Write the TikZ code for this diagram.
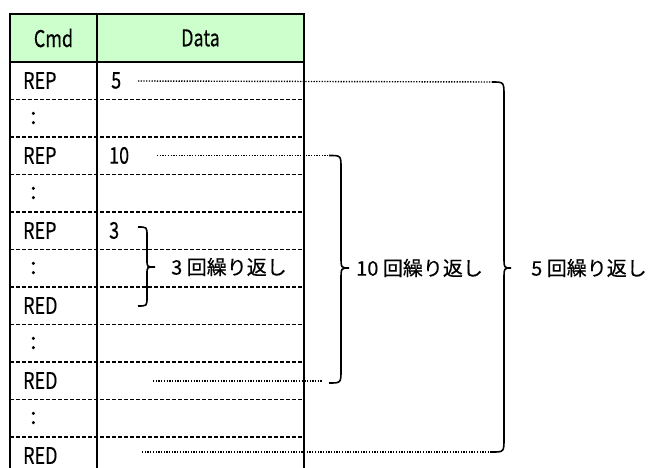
\documentclass[tikz,border=0pt]{standalone}
\usepackage{fontspec}
\setmainfont{Noto Sans CJK JP}[FakeBold=0.4]
\newfontfamily\lblfont{Noto Sans CJK JP}[FakeBold=0.3]
\newcommand{\narrowtxt}[1]{\scalebox{0.78}[1]{#1}}
\begin{document}
\begin{tikzpicture}[x=1pt,y=-1pt,
  thickline/.style={line width=2.4pt},
  rowsep/.style={line width=1.3pt,dash pattern=on 4pt off 2pt},
  dotline/.style={line width=1.4pt,dash pattern=on 1.3pt off 1.4pt},
  bracepath/.style={line width=1.6pt},
  celltxt/.style={inner sep=0pt,anchor=west,font=\fontsize{23}{25}\selectfont},
  headtxt/.style={inner sep=0pt,font=\fontsize{23}{25}\selectfont},
  bracelabel/.style={inner sep=0pt,anchor=west,font=\lblfont\fontsize{20}{22}\selectfont}]
\useasboundingbox (0,0) rectangle (649,468);
\definecolor{headgreen}{HTML}{CCFFCC}
% header
\fill[headgreen] (10,14) rectangle (304,62);
\node[headtxt] (hcmd) at (53.5,38) {\narrowtxt{Cmd}};
\node[headtxt] (hdata) at (200.5,38) {\narrowtxt{Data}};
% row separators
\foreach \i in {1,...,10} {
  \draw[rowsep] (10,{62+37.5*\i}) -- (304,{62+37.5*\i});
}
% cmd column
\foreach \i/\t in {0/REP,2/REP,4/REP,6/RED,8/RED,10/RED} {
  \node[celltxt] (c\i) at (23,{62+37.5*\i+18.5}) {\narrowtxt{\t}};
}
\foreach \i in {1,3,5,7,9} {
  \node[celltxt] (c\i) at (30,{62+37.5*\i+18.5}) {:};
}
% data
\node[celltxt] (d0) at (111,80.5) {\narrowtxt{5}};
\node[celltxt] (d2) at (109,155.5) {\narrowtxt{10}};
\node[celltxt] (d4) at (109,230.5) {\narrowtxt{3}};
% coordinates
\coordinate (s0) at (138,81);
\coordinate (s2) at (157,155.5);
\coordinate (s8) at (153,381);
\coordinate (s10) at (142,452);
\coordinate (b5t) at (492,82);
\coordinate (b5b) at (492,452);
\coordinate (b10t) at (329,155.5);
\coordinate (b10b) at (322,381);
% table frame
\draw[thickline] (10,14) -- (304,14);
\draw[line width=2.2pt] (10,62) -- (304,62);
\draw[thickline] (10,13) -- (10,468);
\draw[thickline] (97,13) -- (97,468);
\draw[thickline] (304,13) -- (304,468);
% dotted connectors
\draw[dotline] (s0) -- (b5t);
\draw[dotline] (s10) -- (b5b);
\draw[dotline] (s2) -- (b10t);
\draw[dotline] (s8) -- (b10b);
% braces
% 5 times
\draw[bracepath] (492,82) .. controls (504,82) .. (504,96) -- (504,256)
  .. controls (504,268) .. (511,268) .. controls (504,268) .. (504,280)
  -- (504,438) .. controls (504,452) .. (492,452);
% 10 times
\draw[bracepath] (329,155.5) .. controls (341,155.5) .. (341,168) -- (341,256)
  .. controls (341,268) .. (349,268) .. controls (341,268) .. (341,280)
  -- (341,370) .. controls (341,383) .. (329,383);
% 3 times
\draw[bracepath] (138,227) .. controls (147,227) .. (147,236) -- (147,260)
  .. controls (147,267) .. (155,267) .. controls (147,267) .. (147,274)
  -- (147,297) .. controls (147,306) .. (138,306);
% labels
\node[bracelabel] (l3) at (171,267) {3 回繰り返し};
\node[bracelabel] (l10) at (356,268) {10 回繰り返し};
\node[bracelabel] (l5) at (531,268) {5 回繰り返し};
\end{tikzpicture}
\end{document}
